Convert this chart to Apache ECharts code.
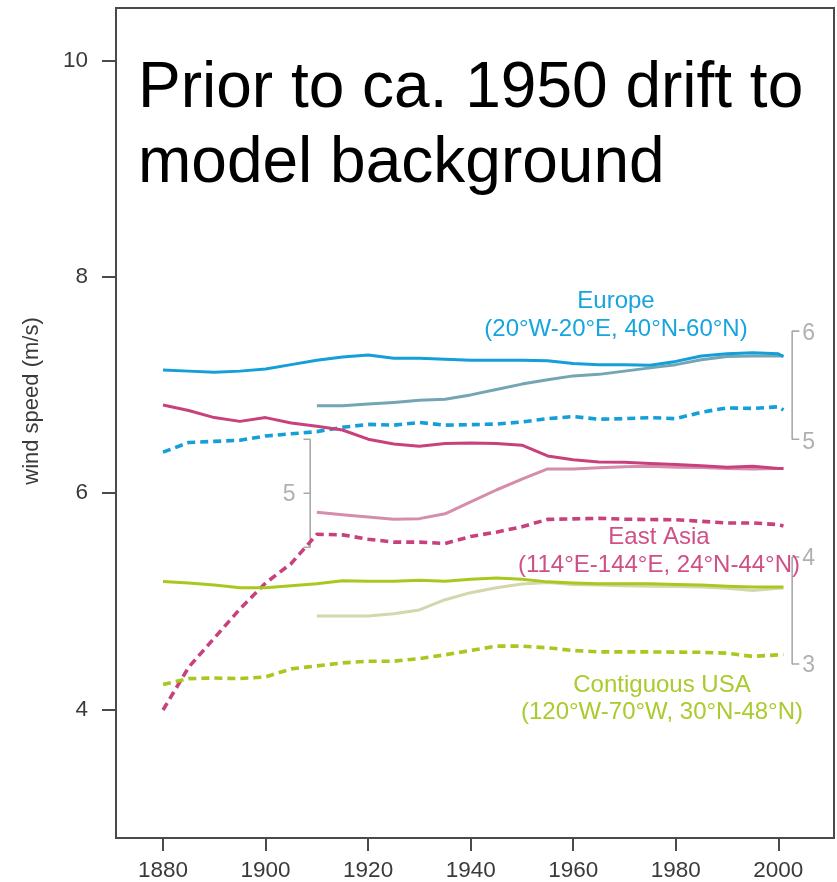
<!DOCTYPE html>
<html>
<head>
<meta charset="utf-8">
<script src="https://cdn.jsdelivr.net/npm/echarts@6/dist/echarts.min.js"></script>
<style>
html,body{margin:0;padding:0;background:#ffffff;}
#chart{width:837px;height:882px;}
</style>
</head>
<body>
<div id="chart"></div>
<script>
// ---------------- DATA ----------------
const years = [1880,1885,1890,1895,1900,1905,1910,1915,1920,1925,1930,1935,1940,1945,1950,1955,1960,1965,1970,1975,1980,1985,1990,1995,2000,2001];

const europeObs    = [7.14,7.13,7.12,7.13,7.15,7.19,7.23,7.26,7.28,7.25,7.25,7.24,7.23,7.23,7.23,7.225,7.20,7.19,7.19,7.185,7.22,7.27,7.29,7.30,7.29,7.265];
const europeModel  = [null,null,null,null,null,null,6.81,6.81,6.825,6.84,6.86,6.87,6.91,6.96,7.01,7.05,7.086,7.10,7.13,7.16,7.19,7.235,7.265,7.27,7.27,7.27];
const europeDash   = [6.38,6.47,6.48,6.49,6.53,6.55,6.57,6.61,6.637,6.63,6.655,6.63,6.635,6.64,6.66,6.69,6.71,6.685,6.69,6.70,6.69,6.75,6.79,6.785,6.80,6.77];

const eastAsiaObs   = [6.816,6.765,6.70,6.665,6.70,6.65,6.62,6.585,6.50,6.455,6.435,6.46,6.465,6.46,6.445,6.345,6.31,6.29,6.286,6.275,6.265,6.255,6.24,6.25,6.23,6.23];
const eastAsiaModel = [null,null,null,null,null,null,5.825,5.80,5.78,5.76,5.765,5.81,5.92,6.03,6.13,6.225,6.225,6.235,6.245,6.25,6.24,6.238,6.23,6.225,6.23,6.23];
const eastAsiaDash  = [3.994,4.39,4.66,4.93,5.17,5.35,5.62,5.615,5.575,5.548,5.548,5.535,5.60,5.64,5.69,5.758,5.763,5.768,5.76,5.757,5.755,5.74,5.725,5.725,5.71,5.696];

const usObs   = [5.184,5.17,5.15,5.125,5.125,5.145,5.163,5.19,5.185,5.185,5.195,5.185,5.205,5.215,5.205,5.18,5.17,5.163,5.163,5.163,5.155,5.15,5.14,5.133,5.132,5.132];
const usModel = [null,null,null,null,null,null,4.865,4.865,4.865,4.885,4.92,5.015,5.08,5.125,5.16,5.175,5.155,5.15,5.143,5.14,5.137,5.133,5.12,5.10,5.12,5.123];
const usDash  = [4.231,4.285,4.29,4.285,4.30,4.375,4.403,4.43,4.446,4.446,4.47,4.505,4.545,4.585,4.585,4.57,4.545,4.532,4.532,4.532,4.53,4.528,4.52,4.49,4.505,4.508];

// axis ticks
const xTicks = [1880,1900,1920,1940,1960,1980,2000];
const yTicks = [4,6,8,10];

// secondary (offset) scales: label text and the main-axis value where each sits
const europeScaleLabels = ['6','5'];
const europeScaleValues = [7.5, 6.5];
const eastAsiaScaleLabels = ['5'];
const eastAsiaScaleValues = [6.0];
const eastAsiaScaleRange = [6.5, 5.5];
const usScaleLabels = ['4','3'];
const usScaleValues = [5.41, 4.42];

// texts
const titleLines = ['Prior to ca. 1950 drift to', 'model background'];
const europeText = ['Europe', '(20°W-20°E, 40°N-60°N)'];
const eastAsiaText = ['East Asia', '(114°E-144°E, 24°N-44°N)'];
const usText = ['Contiguous USA', '(120°W-70°W, 30°N-48°N)'];
const yAxisName = 'wind speed (m/s)';

// ---------------- CHART ----------------
const FONT = "'Liberation Sans', Arial, Helvetica, sans-serif";
const AXIS_COLOR = '#4a4a4a';
const LABEL_COLOR = '#3a3a3a';
const SCALE_COLOR = '#a9a9a9';
const SCALE_TEXT = '#9c9c9c';

function pairs(xs, ys) {
  return xs.map((x, i) => [x, ys[i]]).filter(p => p[1] !== null && p[1] !== undefined);
}

function lineSeries(name, values, color, width, dashed, z) {
  return {
    name: name,
    type: 'line',
    data: pairs(years, values),
    symbol: 'none',
    showSymbol: false,
    smooth: false,
    z: z,
    silent: true,
    lineStyle: {
      color: color,
      width: width,
      type: dashed ? [8, 5] : 'solid',
      cap: 'butt',
      join: 'round'
    }
  };
}

// bracket positions (years) for the secondary scales
const rightBracketX = 2002.7, rightTickX = 2004.1;
const leftBracketX = 1908.7, leftTickX = 1907.4;

function bracketSeries(points, z) {
  return {
    type: 'line',
    data: points,
    symbol: 'none',
    silent: true,
    z: z,
    lineStyle: { color: SCALE_COLOR, width: 1.6 },
    animation: false
  };
}

function scaleLabelSeries(xVal, values, labels, position, distance, offsetY) {
  return {
    type: 'scatter',
    data: values.map(v => [xVal, v]),
    symbolSize: 0,
    silent: true,
    label: {
      show: true,
      position: position,
      distance: distance,
      offset: [0, offsetY],
      formatter: p => labels[p.dataIndex],
      fontFamily: FONT,
      fontSize: 23,
      color: SCALE_TEXT
    }
  };
}

const chart = echarts.init(document.getElementById('chart'), null, { renderer: 'canvas' });

const series = [
  lineSeries('Europe model', europeModel, '#74a5b4', 3, false, 3),
  lineSeries('Europe', europeObs, '#149fd9', 3, false, 4),
  lineSeries('Europe dashed', europeDash, '#149fd9', 3.6, true, 4),
  lineSeries('East Asia model', eastAsiaModel, '#d58dab', 3, false, 3),
  lineSeries('East Asia', eastAsiaObs, '#c8417c', 3, false, 4),
  lineSeries('East Asia dashed', eastAsiaDash, '#c8417c', 3.6, true, 4),
  lineSeries('USA model', usModel, '#d4d6ad', 3, false, 3),
  lineSeries('USA', usObs, '#a7c91f', 3, false, 4),
  lineSeries('USA dashed', usDash, '#a7c91f', 3.6, true, 4),

  // Europe scale bracket
  bracketSeries([[rightTickX, europeScaleValues[0]], [rightBracketX, europeScaleValues[0]], [rightBracketX, europeScaleValues[1]], [rightTickX, europeScaleValues[1]]], 2),
  scaleLabelSeries(rightTickX, europeScaleValues, europeScaleLabels, 'right', 3, 3),

  // East Asia scale bracket
  bracketSeries([[leftTickX, eastAsiaScaleRange[0]], [leftBracketX, eastAsiaScaleRange[0]], [leftBracketX, eastAsiaScaleRange[1]], [leftTickX, eastAsiaScaleRange[1]]], 2),
  bracketSeries([[leftTickX, eastAsiaScaleValues[0]], [leftBracketX, eastAsiaScaleValues[0]]], 2),
  scaleLabelSeries(leftTickX, eastAsiaScaleValues, eastAsiaScaleLabels, 'left', 8, 1),

  // USA scale bracket
  bracketSeries([[rightTickX, usScaleValues[0]], [rightBracketX, usScaleValues[0]], [rightBracketX, usScaleValues[1]], [rightTickX, usScaleValues[1]]], 2),
  scaleLabelSeries(rightTickX, usScaleValues, usScaleLabels, 'right', 3, 2)
];

function textEl(text, x, y, size, color, align, extra) {
  return Object.assign({
    type: 'text',
    x: x, y: y,
    silent: true,
    z: 100,
    style: {
      text: text,
      fontFamily: FONT,
      fontSize: size,
      fill: color,
      textAlign: align,
      textVerticalAlign: 'middle'
    }
  }, extra || {});
}

const graphics = [
  textEl(titleLines[0], 138, 89, 64, '#000000', 'left'),
  textEl(titleLines[1], 138, 164, 64, '#000000', 'left'),
  textEl(europeText[0], 616, 301, 24, '#17a5dd', 'center'),
  textEl(europeText[1], 616, 329, 24, '#17a5dd', 'center'),
  textEl(eastAsiaText[0], 659, 537, 24, '#cf4f86', 'center'),
  textEl(eastAsiaText[1], 659, 565, 24, '#cf4f86', 'center'),
  textEl(usText[0], 662, 685, 24, '#a9cb2d', 'center'),
  textEl(usText[1], 662, 712, 24, '#a9cb2d', 'center'),
  textEl(yAxisName, 32, 401, 22, '#3a3a3a', 'center', { rotation: Math.PI / 2 })
];

const option = {
  animation: false,
  backgroundColor: '#ffffff',
  grid: {
    left: 116, top: 8, right: 3, bottom: 42,
    show: true,
    borderColor: AXIS_COLOR,
    borderWidth: 2,
    backgroundColor: 'transparent',
    containLabel: false
  },
  xAxis: {
    type: 'value',
    min: 1870.83,
    max: 2010.86,
    splitLine: { show: false },
    axisLine: { show: true, onZero: false, lineStyle: { color: AXIS_COLOR, width: 2 } },
    axisTick: { show: true, length: 13, inside: false, customValues: xTicks, lineStyle: { color: AXIS_COLOR, width: 2 } },
    axisLabel: { customValues: xTicks, fontFamily: FONT, fontSize: 22.5, color: LABEL_COLOR, margin: 21, formatter: v => String(v) }
  },
  yAxis: {
    type: 'value',
    min: 2.81,
    max: 10.49,
    splitLine: { show: false },
    axisLine: { show: true, onZero: false, lineStyle: { color: AXIS_COLOR, width: 2 } },
    axisTick: { show: true, length: 14, inside: false, customValues: yTicks, lineStyle: { color: AXIS_COLOR, width: 2 } },
    axisLabel: { customValues: yTicks, fontFamily: FONT, fontSize: 22.5, color: LABEL_COLOR, margin: 28, formatter: v => String(v) }
  },
  series: series,
  graphic: graphics
};

chart.setOption(option);
</script>
</body>
</html>
